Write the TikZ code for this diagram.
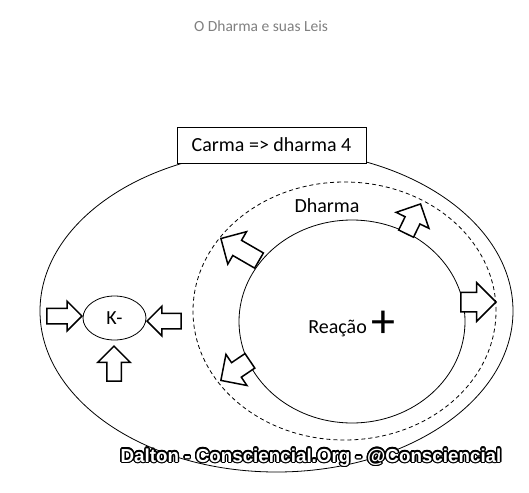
\documentclass[tikz,border=0pt]{standalone}
\usepackage{fontspec}
\setmainfont{Carlito}
\newfontfamily\wmfont{Liberation Sans}
\usepackage{contour}
\contourlength{1.4pt}
\usetikzlibrary{shapes.geometric, shapes.arrows}
\tikzstyle{ring} = [ellipse, draw=black, line width=0.8pt, inner sep=0pt]
\tikzstyle{txt} = [inner sep=0pt, font=\fontsize{20}{24}\selectfont]
\tikzstyle{bigarrow} = [single arrow, draw=black, fill=white, line width=1.5pt, inner xsep=0pt, inner ysep=8pt, single arrow tip angle=90, minimum height=35pt, single arrow head extend=10pt, anchor=tip]
\tikzstyle{smallarrow} = [bigarrow, inner ysep=7pt, single arrow head extend=7pt]

\begin{document}
\begin{tikzpicture}[x=1pt, y=-1pt]
        \useasboundingbox[fill=white] (0,0) rectangle (529,492);
        \node (title) [txt, anchor=base, text=black!50, font=\fontsize{15.5}{18}\selectfont] at (261,32) {O Dharma e suas Leis};

        % rings
        \node (carma) [ring, minimum width=473pt, minimum height=322pt] at (276.5,311) {};
        \node (dharma) [ring, dash pattern=on 4pt off 3pt, minimum width=303pt, minimum height=258pt] at (344.5,311) {};
        \node (reacao) [ring, minimum width=226pt, minimum height=203pt] at (352,321.5) {};
        \node (kminus) [ring, txt, minimum width=63pt, minimum height=44pt] at (114.5,318) {K-};

        \node (box) [rectangle, draw=black, line width=0.8pt, fill=white, minimum width=189pt, minimum height=36pt, txt] at (271.5,145) {Carma => dharma 4};
        \node (dharmatxt) [txt, anchor=base] at (327,212) {Dharma};
        \node (reacaotxt) [txt, anchor=base] at (352,333) {Reação\hspace{5pt}\raisebox{-4pt}{\fontsize{48}{48}\selectfont +}};

        % arrows into K-
        \node (kleft) [smallarrow] at (83,316) {};
        \node (kright) [smallarrow, rotate=180, minimum height=34pt] at (146,321) {};
        \node (kdown) [smallarrow, rotate=90, inner ysep=6.5pt, single arrow head extend=9pt] at (114,345) {};

        % arrows out of the reaction
        \node (outnw) [bigarrow, rotate=150, minimum height=44pt] at (220,238) {};
        \node (outne) [bigarrow, rotate=64, minimum height=33pt, inner ysep=7.5pt] at (421,203) {};
        \node (oute) [bigarrow, inner ysep=9pt, single arrow head extend=9.5pt] at (497,302) {};
        \node (outsw) [bigarrow, rotate=214] at (220,381) {};

        \node (mark) [anchor=base, inner sep=0pt, font=\wmfont\bfseries\fontsize{18.8}{22}\selectfont] at (311,462) {\contour{black}{\textcolor{white}{Dalton - Consciencial.Org - @Consciencial}}};
    \end{tikzpicture}
\end{document}
